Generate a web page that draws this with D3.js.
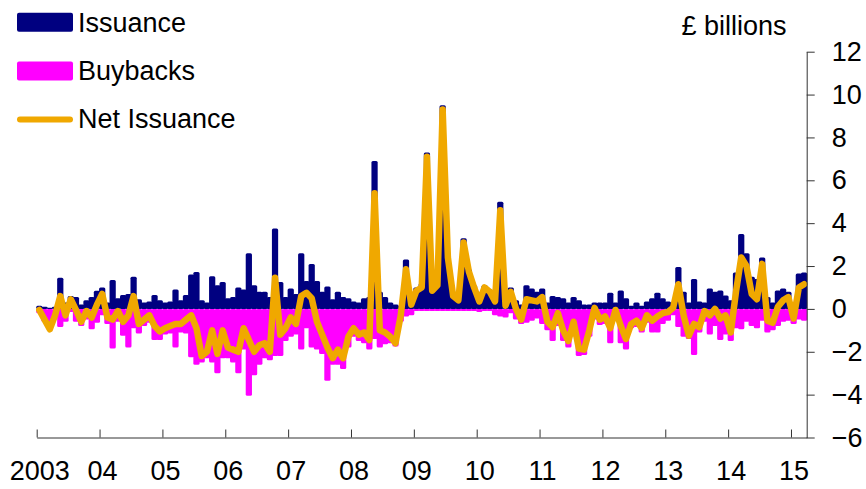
<!DOCTYPE html>
<html>
<head>
<meta charset="utf-8">
<script src="https://cdn.jsdelivr.net/npm/d3@7"></script>
<style>
  body { margin: 0; background: #fff; }
  text { font-family: "Liberation Sans", Arial, sans-serif; font-size: 27px; fill: #000; }
</style>
</head>
<body>
<svg width="866" height="489"></svg>
<script>
// monthly, Jan 2003 - Mar 2015, £ billions
const issuance = [
  0.15, 0.1, 0.05, 0.1, 1.45, 0.3, 0.6, 0.55, 0.2, 0.4, 0.55, 0.85,      // 2003
  1.0, 0.3, 1.35, 0.5, 0.65, 0.7, 1.5, 0.45, 0.3, 0.35, 0.65, 0.4,       // 2004
  0.3, 0.35, 0.9, 0.4, 0.65, 1.6, 1.72, 0.4, 0.3, 1.52, 1.1, 1.25,       // 2005
  0.5, 0.55, 1.0, 0.9, 2.6, 1.1, 0.8, 0.8, 0.55, 3.75, 1.25, 0.55,       // 2006
  0.95, 0.7, 2.6, 1.3, 2.1, 1.3, 0.8, 1.05, 0.45, 0.8, 0.55, 0.5,        // 2007
  0.35, 0.3, 0.5, 0.55, 6.9, 0.8, 0.55, 0.3, 0.2, 0.15, 2.3, 0.6,        // 2008
  1.0, 1.2, 7.3, 1.0, 1.2, 9.5, 2.5, 0.7, 0.5, 3.3, 1.85, 1.1,           // 2009
  0.5, 1.1, 0.9, 0.6, 5.0, 0.5, 1.0, 0.4, 0.2, 1.1, 0.95, 0.8,           // 2010
  0.95, 0.3, 0.6, 0.55, 0.5, 0.3, 0.55, 0.4, 0.2, 0.2, 0.3, 0.3,         // 2011
  0.3, 0.75, 0.3, 0.86, 0.5, 0.15, 0.3, 0.15, 0.35, 0.5, 0.75, 0.5,      // 2012
  0.35, 0.3, 1.95, 0.8, 0.3, 1.4, 0.35, 0.3, 0.95, 0.8, 0.86, 0.63,      // 2013
  0.4, 1.7, 3.5, 2.6, 1.5, 1.4, 2.4, 0.55, 0.3, 0.86, 0.95, 0.8,         // 2014
  0.3, 1.65, 1.7                                                          // 2015
];
const buybacks = [
  -0.2, -0.6, -1.0, -0.4, -0.85, -0.6, -0.15, -0.6, -0.8, -0.5, -0.95, -0.65,
  -0.3, -0.7, -1.85, -0.6, -1.25, -1.8, -0.9, -1.15, -0.8, -0.65, -1.45, -1.45,
  -1.2, -1.15, -1.8, -1.1, -1.15, -2.25, -2.6, -2.5, -2.3, -2.5, -3.0, -2.3,
  -2.3, -2.5, -3.0, -1.9, -4.05, -3.1, -2.6, -2.3, -2.4, -2.2, -2.2, -1.5,
  -1.3, -1.2, -1.9, -0.9, -1.8, -1.9, -2.1, -3.35, -2.6, -2.6, -2.8, -1.8,
  -1.3, -1.5, -1.6, -1.9, -1.4, -1.8, -1.65, -1.6, -1.75, -0.6, -0.35, -0.3,
  -0.1, -0.1, -0.1, -0.1, -0.1, -0.1, -0.1, -0.1, -0.1, -0.1, -0.1, -0.1,
  -0.15, -0.1, -0.1, -0.3, -0.35, -0.4, -0.2, -0.5, -0.7, -0.65, -0.55, -0.45,
  -0.7, -1.0, -1.5, -0.8, -1.5, -1.8, -1.2, -2.2, -2.15, -1.3, -0.5, -0.75,
  -0.7, -1.6, -0.4, -1.6, -1.9, -0.9, -0.85, -1.1, -0.65, -1.1, -1.1, -0.7,
  -0.55, -0.3, -0.85, -1.3, -1.4, -2.15, -1.1, -0.6, -1.2, -0.8, -1.45, -1.2,
  -1.5, -0.9, -0.95, -0.6, -0.8, -0.9, -0.55, -1.1, -1.0, -0.8, -0.6, -0.55,
  -0.7, -0.5, -0.55
];
const netIssuance = [
  -0.05, -0.5, -0.95, -0.3, 0.6, -0.3, 0.45, -0.05, -0.6, -0.1, -0.4, 0.2,
  0.7, -0.4, -0.5, -0.1, -0.6, -0.3, 0.6, -0.7, -0.5, -0.3, -0.8, -1.05,
  -0.9, -0.8, -0.7, -0.7, -0.5, -0.3, -0.9, -2.2, -2.0, -1.0, -2.1, -1.0,
  -1.8, -1.9, -2.0, -0.9, -1.45, -2.0, -1.7, -1.6, -2.0, 1.45, -1.2, -0.9,
  -0.4, -0.7, 0.6, 0.75, 0.5, -0.6, -1.2, -1.8, -2.3, -1.9, -2.3, -1.3,
  -0.9, -1.2, -1.1, -1.45, 5.4, -1.0, -1.1, -1.3, -1.6, -0.3, 1.85, 0.2,
  0.85, 1.0, 7.1, 0.85, 1.1, 9.3, 2.4, 0.6, 0.4, 3.1, 1.75, 1.0,
  0.35, 1.0, 0.8, 0.35, 4.6, 0.15, 0.8, 0.0, -0.5, 0.45, 0.4, 0.35,
  0.55, -0.6, -0.85, -0.2, -1.0, -1.5, -0.6, -1.85, -1.9, -1.0, 0.05, -0.5,
  -0.35, -0.9, -0.05, -0.8, -1.4, -0.7, -0.55, -0.9, -0.3, -0.55, -0.35, -0.2,
  -0.15, 0.05, 1.15, -0.3, -1.25, -0.7, -0.85, -0.1, -0.3, 0.0, -0.45, -0.3,
  -1.1, 0.8, 2.4, 2.0, 0.7, 0.45, 2.1, -0.55, -0.65, 0.1, 0.4, 0.55,
  -0.45, 1.0, 1.15
];
const yearLabels = ['2003', '04', '05', '06', '07', '08', '09', '10', '11', '12', '13', '14', '15'];
const yTicks = [-6, -4, -2, 0, 2, 4, 6, 8, 10, 12];
const seriesNames = ['Issuance', 'Buybacks', 'Net Issuance'];

const svg = d3.select('svg');
const cores = { iss: '#000080', buy: '#ff00ff', net: '#f0a800', eixo: '#333' };

const x = d3.scaleLinear().domain([0, issuance.length]).range([36.7, 806.7]);
const y = d3.scaleLinear().domain([-6, 12]).range([437.5, 51.7]);
const passo = x(1) - x(0);

// buybacks (negative) and issuance (positive) bars, slightly overlapping so they merge
svg.append('g').selectAll('rect').data(buybacks)
  .enter().append('rect')
    .attr('x', (d, i) => x(i) - 0.5)
    .attr('width', passo + 1)
    .attr('y', y(0))
    .attr('height', d => y(d) - y(0))
    .attr('rx', 1.5)
    .attr('fill', cores.buy);

svg.append('g').selectAll('rect').data(issuance)
  .enter().append('rect')
    .attr('x', (d, i) => x(i) - 0.5)
    .attr('width', passo + 1)
    .attr('y', d => y(d))
    .attr('height', d => y(0) - y(d))
    .attr('rx', 1.5)
    .attr('fill', cores.iss);

const linha = d3.line()
  .x((d, i) => x(i + 0.5))
  .y(d => y(d));

svg.append('path')
  .datum(netIssuance)
  .attr('d', linha)
  .attr('fill', 'none')
  .attr('stroke', cores.net)
  .attr('stroke-width', 6.5)
  .attr('stroke-linejoin', 'round')
  .attr('stroke-linecap', 'round');

// axes
const xAxis = d3.axisBottom(x)
  .tickValues(d3.range(0, issuance.length, 12))
  .tickFormat((d, i) => yearLabels[i])
  .tickSize(-8)
  .tickSizeOuter(0);

const xAxisG = svg.append('g')
  .attr('transform', `translate(0,${y(-6)})`)
  .attr('color', cores.eixo)
  .call(xAxis);
xAxisG.selectAll('text')
  .attr('y', 42.5)
  .attr('dy', 0)
  .attr('dx', 2.5);

const yAxis = d3.axisRight(y)
  .tickValues(yTicks)
  .tickSize(8)
  .tickSizeOuter(0)
  .tickPadding(17);

svg.append('g')
  .attr('transform', `translate(${x(issuance.length)},0)`)
  .attr('color', cores.eixo)
  .call(yAxis);

svg.append('text')
  .attr('x', 681.5)
  .attr('y', 35)
  .text('£ billions');

// legend
const leg = svg.append('g');
const legY = [31.7, 80, 128.3];
leg.append('rect').attr('x', 17).attr('y', 12.7).attr('width', 56).attr('height', 19)
  .attr('rx', 2).attr('fill', cores.iss);
leg.append('rect').attr('x', 17).attr('y', 61.5).attr('width', 56).attr('height', 19)
  .attr('rx', 2).attr('fill', cores.buy);
leg.append('line').attr('x1', 20).attr('x2', 70).attr('y1', 119.5).attr('y2', 119.5)
  .attr('stroke', cores.net).attr('stroke-width', 6).attr('stroke-linecap', 'round');
leg.selectAll('text').data(seriesNames)
  .enter().append('text')
    .attr('x', 78)
    .attr('y', (d, i) => legY[i])
    .text(d => d);
</script>
</body>
</html>
